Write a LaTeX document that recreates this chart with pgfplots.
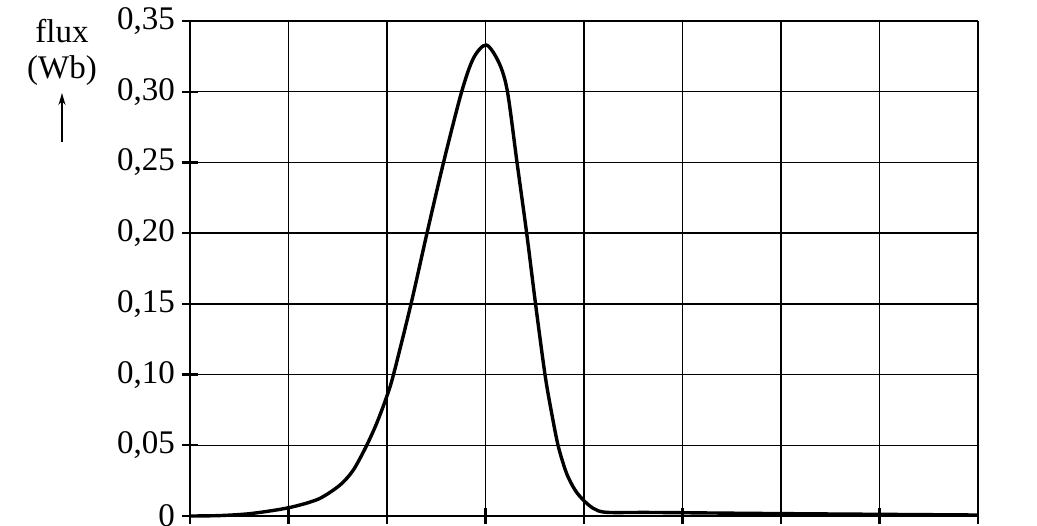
\documentclass[border=0pt]{standalone}
\usepackage{fontspec}
\setmainfont{Liberation Serif}
\usepackage{pgfplots}
\pgfplotsset{compat=1.18}
\usetikzlibrary{arrows.meta}

\begin{document}
\begin{tikzpicture}
  \begin{axis}[
      at={(0,0)}, anchor=south west,
      scale only axis,
      width=394pt, height=247.5pt,
      xmin=0, xmax=8,
      ymin=0, ymax=0.35,
      xtick={0,1,...,8},
      ytick={0,0.05,0.10,0.15,0.20,0.25,0.30,0.35},
      xticklabels={},
      yticklabels={0,{0,05},{0,10},{0,15},{0,20},{0,25},{0,30},{0,35}},
      tick label style={font=\fontsize{16.5pt}{19.8pt}\selectfont},
      axis lines=left,
      x axis line style={-, line width=1.25pt},
      y axis line style={-, line width=1.25pt},
      tick align=center,
      major tick length=8pt,
      tick style={line width=1.1pt, black},
      grid=major,
      major grid style={line width=0.7pt, black},
      clip=false,
    ]
    % magnetic flux through the coil
    \addplot[black, line width=1.7pt, smooth] coordinates {
      (0,0) (0.3,0.0003) (0.6,0.0016) (0.914,0.0047) (1.117,0.0078)
      (1.32,0.0125) (1.523,0.0219) (1.658,0.0325) (1.787,0.049)
      (1.895,0.0655) (1.997,0.0844) (2.066,0.10) (2.244,0.15)
      (2.406,0.20) (2.574,0.25) (2.758,0.30) (2.88,0.324)
      (3.01,0.333) (3.14,0.320) (3.223,0.30) (3.32,0.25)
      (3.418,0.20) (3.508,0.15) (3.604,0.10) (3.672,0.0726) (3.74,0.049)
      (3.824,0.030) (3.909,0.0184) (3.993,0.0113) (4.095,0.0054)
      (4.23,0.0026) (4.7,0.0025) (6,0.0017) (8,0.0007)
    };
  \end{axis}
  \node[anchor=base, font=\fontsize{16.5pt}{19.8pt}\selectfont, inner sep=0pt]
    at (-64pt,236.5pt) {flux};
  \node[anchor=base, font=\fontsize{16.5pt}{19.8pt}\selectfont, inner sep=0pt]
    at (-64pt,218.5pt) {(Wb)};
  \draw[-{Stealth[length=6pt,width=3.5pt]}, line width=0.7pt]
    (-64pt,187pt) -- (-64pt,211.5pt);
  \pgfresetboundingbox
  \path[use as bounding box] (-95pt,-4.5pt) rectangle (423.5pt,258pt);
\end{tikzpicture}
\end{document}
